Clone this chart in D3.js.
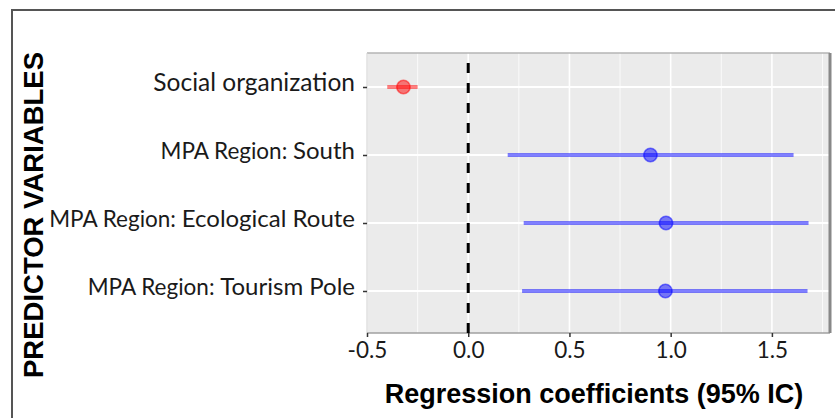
<!DOCTYPE html>
<html>
<head>
<meta charset="utf-8">
<script src="https://cdn.jsdelivr.net/npm/d3@7"></script>
<style>
  html, body { margin: 0; padding: 0; background: #fff; }
  svg { display: block; }
</style>
</head>
<body>
<svg id="chart" width="835" height="418"></svg>
<script>
// ---- data ----
const categories = ["Social organization", "MPA Region: South", "MPA Region: Ecological Route", "MPA Region: Tourism Pole"];
const estimates  = [-0.32, 0.90, 0.977, 0.974];
const lowerCI    = [-0.40, 0.195, 0.274, 0.266];
const upperCI    = [-0.25, 1.607, 1.681, 1.676];
const xTickValues = [-0.5, 0.0, 0.5, 1.0, 1.5];
const xTickLabels = ["-0.5", "0.0", "0.5", "1.0", "1.5"];
const xMinorValues = [-0.25, 0.25, 0.75, 1.25, 1.75];
const xTitle = "Regression coefficients (95% IC)";
const yTitle = "PREDICTOR VARIABLES";

// ---- layout ----
const svg = d3.select("#chart");
const panel = { left: 367, right: 830, top: 53, bottom: 333 };
const labelFont = "Lato, 'Open Sans', sans-serif";
const titleFont = "'Liberation Sans', Arial, sans-serif";

const x = d3.scaleLinear().domain([-0.5, 1.787]).range([panel.left, panel.right]);
const y = d3.scalePoint().domain(categories).range([87, 291]);
const color = v => v < 0 ? "#ff0000" : "#0000ff";

const rows = categories.map((c, i) => ({ cat: c, est: estimates[i], lo: lowerCI[i], hi: upperCI[i] }));

// outer frame
svg.append("rect")
  .attr("x", 12).attr("y", 10).attr("width", 900).attr("height", 500)
  .attr("fill", "none").attr("stroke", "#555").attr("stroke-width", 2);

// panel background
svg.append("rect")
  .attr("x", panel.left).attr("y", panel.top)
  .attr("width", panel.right - panel.left).attr("height", panel.bottom - panel.top)
  .attr("fill", "#ebebeb");

// minor grid
svg.append("g").selectAll("line").data(xMinorValues).join("line")
  .attr("x1", d => x(d)).attr("x2", d => x(d))
  .attr("y1", panel.top).attr("y2", panel.bottom)
  .attr("stroke", "#fafafa").attr("stroke-width", 1);

// major grid x
svg.append("g").selectAll("line").data(xTickValues).join("line")
  .attr("x1", d => x(d)).attr("x2", d => x(d))
  .attr("y1", panel.top).attr("y2", panel.bottom)
  .attr("stroke", "#ffffff").attr("stroke-width", 1.6);

// major grid y
svg.append("g").selectAll("line").data(categories).join("line")
  .attr("x1", panel.left).attr("x2", panel.right)
  .attr("y1", d => y(d)).attr("y2", d => y(d))
  .attr("stroke", "#ffffff").attr("stroke-width", 2.2);

// panel border
const pb = svg.append("g").attr("fill", "none");
pb.append("line").attr("x1", panel.left).attr("x2", panel.right).attr("y1", panel.top).attr("y2", panel.top)
  .attr("stroke", "#b5b5b5").attr("stroke-width", 1.5);
pb.append("line").attr("x1", panel.left).attr("x2", panel.left).attr("y1", panel.top).attr("y2", panel.bottom)
  .attr("stroke", "#d0d0d0").attr("stroke-width", 1);
pb.append("line").attr("x1", panel.left).attr("x2", panel.right).attr("y1", panel.bottom).attr("y2", panel.bottom)
  .attr("stroke", "#a0a0a0").attr("stroke-width", 1.5);
pb.append("line").attr("x1", panel.right).attr("x2", panel.right).attr("y1", panel.top).attr("y2", panel.bottom)
  .attr("stroke", "#888").attr("stroke-width", 3);

// zero reference line
svg.append("line")
  .attr("x1", x(0)).attr("x2", x(0))
  .attr("y1", panel.top).attr("y2", panel.bottom)
  .attr("stroke", "#000").attr("stroke-width", 3)
  .attr("stroke-dasharray", "10,10").attr("stroke-dashoffset", 10);

// CI bars
svg.append("g").selectAll("line").data(rows).join("line")
  .attr("x1", d => x(d.lo)).attr("x2", d => x(d.hi))
  .attr("y1", d => y(d.cat)).attr("y2", d => y(d.cat))
  .attr("stroke", d => color(d.est)).attr("stroke-opacity", 0.5)
  .attr("stroke-width", 4);

// points
svg.append("g").selectAll("circle").data(rows).join("circle")
  .attr("cx", d => x(d.est)).attr("cy", d => y(d.cat))
  .attr("r", 6.7)
  .attr("fill", d => color(d.est)).attr("fill-opacity", 0.5)
  .attr("stroke", d => color(d.est)).attr("stroke-opacity", 0.5).attr("stroke-width", 1.6);

// x axis
const xAxis = d3.axisBottom(x).tickValues(xTickValues)
  .tickFormat((d, i) => xTickLabels[i]).tickSize(4).tickPadding(5);
const gx = svg.append("g").attr("transform", `translate(0,${panel.bottom})`).call(xAxis);
gx.select(".domain").remove();
gx.selectAll(".tick line").attr("stroke", "#333").attr("stroke-width", 1.5);
gx.selectAll(".tick text").attr("fill", "#1a1a1a")
  .style("font-family", labelFont).style("font-size", "22.5px");

// y axis
const yAxis = d3.axisLeft(y).tickSize(4).tickPadding(5).tickFormat("");
const gy = svg.append("g").attr("transform", `translate(${panel.left},0)`).call(yAxis);
gy.select(".domain").remove();
gy.selectAll(".tick line").attr("stroke", "#333").attr("stroke-width", 1.5);
gy.selectAll(".tick").each(function(d) {
  const t = d3.select(this).append("text")
    .attr("x", -12).attr("dy", "0.35em")
    .attr("text-anchor", "end").attr("fill", "#1a1a1a")
    .style("font-family", labelFont);
  const parts = d.split(": ");
  if (parts.length > 1) {
    t.append("tspan").style("font-size", "22.5px").text(parts[0] + ": ");
    t.append("tspan").style("font-size", "24px").text(parts[1]);
  } else {
    t.append("tspan").style("font-size", "24.5px").text(d);
  }
});

// axis titles
svg.append("text")
  .attr("x", 594).attr("y", 403)
  .attr("text-anchor", "middle")
  .style("font-family", titleFont).style("font-weight", "bold").style("font-size", "27px")
  .attr("fill", "#000").text(xTitle);

svg.append("text")
  .attr("transform", `translate(43,215) rotate(-90)`)
  .attr("text-anchor", "middle")
  .style("font-family", titleFont).style("font-weight", "bold").style("font-size", "27.5px")
  .attr("fill", "#000").text(yTitle);
</script>
</body>
</html>
